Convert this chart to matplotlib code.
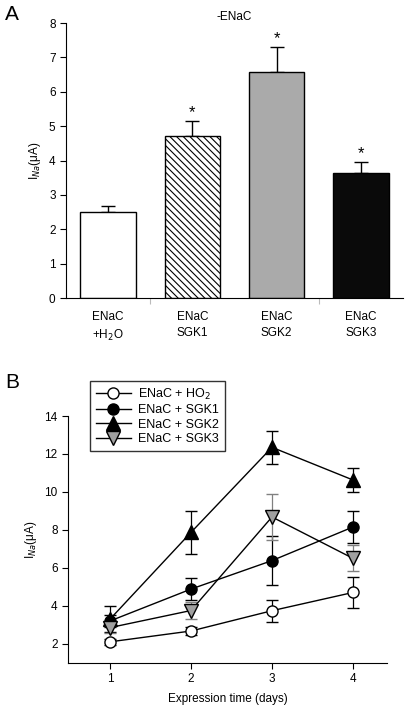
import matplotlib.pyplot as plt

# panel A data
bar_labels = ["ENaC\n+H$_2$O", "ENaC\nSGK1", "ENaC\nSGK2", "ENaC\nSGK3"]
bar_values = [2.5, 4.72, 6.57, 3.64]
bar_errors = [0.18, 0.43, 0.74, 0.32]
bar_colors = ["white", "white", "#aaaaaa", "#0a0a0a"]
bar_hatches = ["", "\\\\\\\\\\", "", ""]
bar_stars = [False, True, True, True]

# panel B data
days = [1, 2, 3, 4]
series_names = ["ENaC + HO$_{2}$", "ENaC + SGK1", "ENaC + SGK2", "ENaC + SGK3"]
ho2 = [2.1, 2.67, 3.74, 4.7]
ho2_err = [0.15, 0.2, 0.58, 0.82]
sgk1 = [3.2, 4.88, 6.38, 8.15]
sgk1_err = [0.3, 0.6, 1.3, 0.85]
sgk2 = [3.3, 7.87, 12.35, 10.63]
sgk2_err = [0.7, 1.12, 0.88, 0.65]
sgk3 = [2.85, 3.75, 8.68, 6.5]
sgk3_err = [0.3, 0.45, 1.22, 0.68]

plt.rcParams['font.family'] = ['Liberation Sans', 'DejaVu Sans']
plt.rcParams['hatch.linewidth'] = 0.8

fig = plt.figure(figsize=(4.06, 7.08), dpi=100)

# ---- A ----
ax1 = fig.add_axes([0.1626, 0.579, 0.83, 0.3885])
x = [1, 2, 3, 4]
ax1.bar(x, bar_values, width=0.66, color=bar_colors, edgecolor="black",
        linewidth=1.0, hatch=bar_hatches, zorder=2)
ax1.errorbar(x, bar_values, yerr=[[0, 0, 0, 0], bar_errors], fmt="none",
             ecolor="black", elinewidth=1.0, capsize=5, capthick=1.0, zorder=1)
for xi, v, e, s in zip(x, bar_values, bar_errors, bar_stars):
    if s:
        ax1.text(xi, v + e + 0.25, "*", ha="center", va="center", fontsize=12)
ax1.set_xlim(0.5, 4.5)
ax1.set_ylim(0, 8)
ax1.spines["top"].set_visible(False)
ax1.spines["right"].set_visible(False)
ax1.spines["left"].set_bounds(0, 8)
ax1.set_xticks([1.5, 3.5])
ax1.set_xticklabels([])
ax1.tick_params(axis="x", length=4, color="#bbbbbb", direction="out")
ax1.tick_params(axis="y", labelsize=8.5, length=4)
for xi, lab in zip(x, bar_labels):
    ax1.text(xi, -0.38, lab, ha="center", va="top", fontsize=8.5, linespacing=1.45)
ax1.set_ylabel("I$_{Na}$(μA)", fontsize=8.5)
ax1.set_title("-ENaC", fontsize=8.5, pad=2)
fig.text(0.012, 0.972, "A", fontsize=15)

# ---- B ----
ax2 = fig.add_axes([0.1675, 0.064, 0.7855, 0.3484])
c1 = ax2.errorbar(days, ho2, yerr=ho2_err, color="black", marker="o", ms=8,
                  mfc="white", mec="black", ecolor="black", elinewidth=0.9,
                  capsize=4, lw=1.0, zorder=3)
c2 = ax2.errorbar(days, sgk1, yerr=sgk1_err, color="black", marker="o", ms=8,
                  mfc="black", mec="black", ecolor="black", elinewidth=0.9,
                  capsize=4, lw=1.0, zorder=4)
c3 = ax2.errorbar(days, sgk2, yerr=sgk2_err, color="black", marker="^", ms=10,
                  mfc="black", mec="black", ecolor="black", elinewidth=0.9,
                  capsize=4, lw=1.0, zorder=5)
c4 = ax2.errorbar(days, sgk3, yerr=sgk3_err, color="black", marker="v", ms=10,
                  mfc="#a0a0a0", mec="black", ecolor="#808080", elinewidth=0.9,
                  capsize=4, lw=1.0, zorder=6)
ax2.set_xlim(0.48, 4.42)
ax2.set_ylim(1, 14)
ax2.spines["top"].set_visible(False)
ax2.spines["right"].set_visible(False)
ax2.set_xticks(days)
ax2.set_yticks([2, 4, 6, 8, 10, 12, 14])
ax2.tick_params(labelsize=8.5, length=4)
ax2.set_xlabel("Expression time (days)", fontsize=8.5, labelpad=6)
ax2.set_ylabel("I$_{Na}$(μA)", fontsize=8.5)
handles = [c.lines[0] for c in (c1, c2, c3, c4)]
leg = ax2.legend(handles, series_names, loc="upper left",
                 bbox_to_anchor=(0.069, 1.142), fontsize=9,
                 frameon=True, fancybox=False, edgecolor="black",
                 handlelength=2.8, borderpad=0.45, labelspacing=0.2,
                 handletextpad=0.6, borderaxespad=0)
leg.get_frame().set_linewidth(1.0)
fig.text(0.012, 0.452, "B", fontsize=15)

fig.savefig("out.png", dpi=100)
